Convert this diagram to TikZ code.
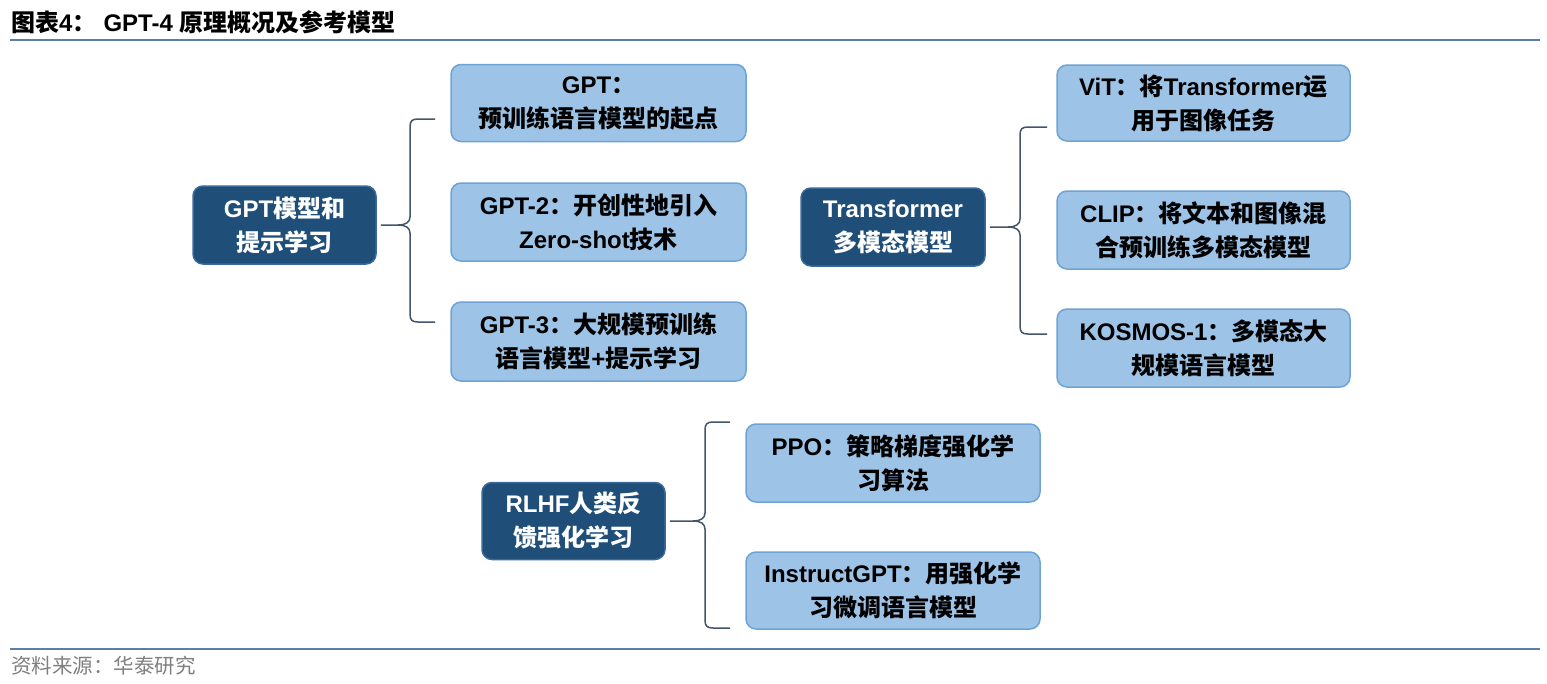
\documentclass[tikz,border=0pt]{standalone}
\usepackage{fontspec}
\setmainfont{Liberation Sans}
\newfontfamily\cjk{Noto Sans CJK SC}
\usetikzlibrary{calc}
\definecolor{lightbox}{HTML}{9DC3E6}
\definecolor{lightedge}{HTML}{6FA3D6}
\definecolor{darkbox}{HTML}{1F4E79}
\definecolor{darkedge}{HTML}{3A6A9C}
\definecolor{bracec}{HTML}{44546A}
\definecolor{rulec}{HTML}{5B7FAB}
\definecolor{srcgray}{HTML}{7F7F7F}
\newcommand{\Z}[1]{{\cjk #1}}
\newcommand{\drawbrace}[6]{%
  \draw[bracep] (#5,#2) -- (#1+8,#2) .. controls (#1+2,#2) and (#1,#2+2) .. (#1,#2+8)
    -- (#1,#3-8) .. controls (#1,#3-3) and (#1-4,#3) .. (#1-12,#3) -- ([xshift=4pt]#6.east);
  \draw[bracep] (#1-12,#3) .. controls (#1-4,#3) and (#1,#3+3) .. (#1,#3+8)
    -- (#1,#4-8) .. controls (#1,#4-2) and (#1+2,#4) .. (#1+8,#4) -- (#5,#4);
}
\begin{document}
\begin{tikzpicture}[x=1pt,y=-1pt,
  boxbase/.style={line width=1.5pt,rounded corners=10pt,align=center,inner sep=0pt,
    font=\fontsize{24}{34}\selectfont\bfseries},
  lbox/.style={boxbase,draw=lightedge,fill=lightbox,text=black,minimum width=295pt,minimum height=77pt},
  dbox/.style={boxbase,draw=darkedge,fill=darkbox,text=white,minimum width=183pt,minimum height=78pt},
  bracep/.style={draw=bracec,line width=1.5pt},
  rulep/.style={draw=rulec,line width=2pt}]
\useasboundingbox (0,0) rectangle (1547,683);

% title and rules
\node[anchor=west,inner sep=0pt,font=\fontsize{24}{28}\selectfont\bfseries] (title) at (11,22)
  {\Z{图表}4\Z{：}\hspace{7pt}GPT-4 \Z{原理概况及参考模型}};
\draw[rulep] (10,40) -- (1540,40);
\draw[rulep] (10,649) -- (1540,649);
\node[anchor=west,inner sep=0pt,text=srcgray,font=\fontsize{20.5}{24}\selectfont] (src) at (11,666)
  {\Z{资料来源：华泰研究}};

% group 1
\node[dbox] (d1) at (284.5,225) {GPT\Z{模型和}\\\Z{提示学习}};
\node[lbox] (g1) at (598.5,103) {GPT\Z{：}\\\Z{预训练语言模型的起点}};
\node[lbox,minimum height=78pt] (g2) at (598.5,222) {GPT-2\Z{：开创性地引入}\\Zero-shot\Z{技术}};
\node[lbox,minimum height=79pt] (g3) at (598.5,341.5) {GPT-3\Z{：大规模预训练}\\\Z{语言模型}+\Z{提示学习}};
\drawbrace{410}{119}{225}{322}{435}{d1}

% group 2
\node[dbox,minimum width=184pt] (d2) at (893,227) {Transformer\\\Z{多模态模型}};
\node[lbox,minimum width=293pt,minimum height=76pt] (t1) at (1203.5,103) {ViT\Z{：将}Transformer\Z{运}\\\Z{用于图像任务}};
\node[lbox,minimum width=293pt,minimum height=78pt] (t2) at (1203.5,230) {CLIP\Z{：将文本和图像混}\\\Z{合预训练多模态模型}};
\node[lbox,minimum width=293pt,minimum height=78pt] (t3) at (1203.5,348) {KOSMOS-1\Z{：多模态大}\\\Z{规模语言模型}};
\drawbrace{1020}{127}{227}{334}{1047}{d2}

% group 3
\node[dbox,minimum height=77pt] (d3) at (573.5,521) {RLHF\Z{人类反}\\\Z{馈强化学习}};
\node[lbox,minimum width=294pt,minimum height=78pt] (r1) at (893,463) {PPO\Z{：策略梯度强化学}\\\Z{习算法}};
\node[lbox,minimum width=294pt,minimum height=77pt] (r2) at (893,590.5) {InstructGPT\Z{：用强化学}\\\Z{习微调语言模型}};
\drawbrace{705}{422}{521}{628}{730}{d3}
\end{tikzpicture}
\end{document}
